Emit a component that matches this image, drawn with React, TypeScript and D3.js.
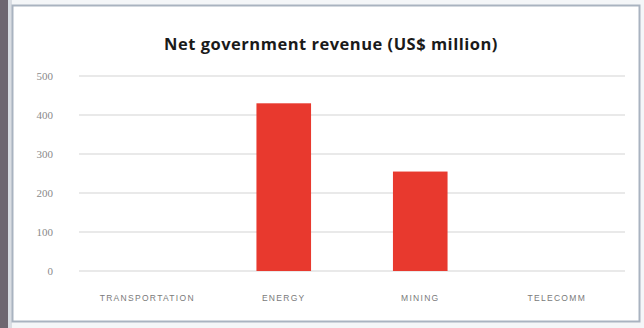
import React from "react";
import * as d3 from "d3";

const categories = ["TRANSPORTATION", "ENERGY", "MINING", "TELECOMM"];
const revenue = [0, 430, 255, 0];
const yTicks = [0, 100, 200, 300, 400, 500];
const title = "Net government revenue (US$ million)";

export default function App() {
  const W = 644, H = 328;
  const left = 79, right = 625, top = 76, bottom = 271;
  const xc = d3.scaleBand<string>().domain(categories).range([left, right]);
  const y = d3.scaleLinear().domain([0, 500]).range([bottom, top]);
  return (
    <svg width={W} height={H} style={{ position: "absolute", left: 0, top: 0, display: "block" }}>
      <rect x={0} y={0} width={W} height={H} fill="#f4f6f8" />
      <rect x={0} y={0} width={8} height={H} fill="#6e6670" />
      <rect x={8} y={0} width={4} height={H} fill="#d9dde3" />
      <rect x={12.5} y={5.5} width={627} height={316} fill="#ffffff" stroke="#a9b3c0" strokeWidth={2} />
      <text x={331} y={50} textAnchor="middle" fontFamily="'Open Sans', 'DejaVu Sans', sans-serif" fontWeight="bold" fontSize={16.5} letterSpacing={0.5} fill="#1a1a1a">
        {title}
      </text>
      {yTicks.map((t) => (
        <g key={t}>
          <line x1={left} x2={right} y1={y(t)} y2={y(t)} stroke="#d4d4d4" strokeWidth={1.2} />
          <text x={53} y={y(t) + 3.5} textAnchor="end" fontFamily="'Liberation Serif', serif" fontSize={11} fill="#8a8a8a">
            {t}
          </text>
        </g>
      ))}
      {categories.map((c, i) => (
        <rect key={c} x={xc(c)! + xc.bandwidth() * 0.3} width={xc.bandwidth() * 0.4} y={y(revenue[i])} height={bottom - y(revenue[i])} fill="#e8392e" />
      ))}
      {categories.map((c) => (
        <text key={c} x={xc(c)! + xc.bandwidth() / 2} y={301} textAnchor="middle" fontFamily="'Liberation Sans', sans-serif" fontSize={8.5} letterSpacing={1.3} fill="#7a7a7a">
          {c}
        </text>
      ))}
    </svg>
  );
}
